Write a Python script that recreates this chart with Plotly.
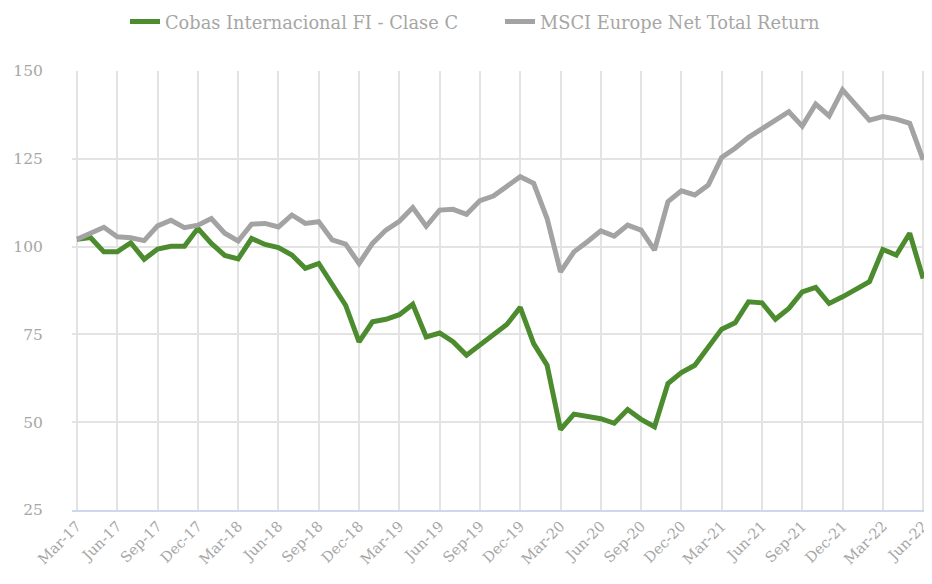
import plotly.graph_objects as go

months = ["Mar-17","Apr-17","May-17","Jun-17","Jul-17","Aug-17","Sep-17","Oct-17","Nov-17","Dec-17",
          "Jan-18","Feb-18","Mar-18","Apr-18","May-18","Jun-18","Jul-18","Aug-18","Sep-18","Oct-18","Nov-18","Dec-18",
          "Jan-19","Feb-19","Mar-19","Apr-19","May-19","Jun-19","Jul-19","Aug-19","Sep-19","Oct-19","Nov-19","Dec-19",
          "Jan-20","Feb-20","Mar-20","Apr-20","May-20","Jun-20","Jul-20","Aug-20","Sep-20","Oct-20","Nov-20","Dec-20",
          "Jan-21","Feb-21","Mar-21","Apr-21","May-21","Jun-21","Jul-21","Aug-21","Sep-21","Oct-21","Nov-21","Dec-21",
          "Jan-22","Feb-22","Mar-22","Apr-22","May-22","Jun-22"]

cobas = [102.1, 102.6, 98.5, 98.5, 101.1, 96.4, 99.3, 100.1, 100.1, 105.2,
         100.9, 97.5, 96.5, 102.3, 100.6, 99.7, 97.6, 93.8, 95.2, 89.0, 83.3, 72.9,
         78.6, 79.3, 80.6, 83.6, 74.3, 75.4, 72.9, 69.1, 71.9, 74.8, 77.8, 82.7,
         72.4, 66.2, 47.9, 52.3, 51.6, 51.0, 49.7, 53.6, 50.8, 48.7, 61.0, 64.1,
         66.2, 71.2, 76.5, 78.3, 84.3, 84.0, 79.3, 82.4, 87.1, 88.4, 83.8, 85.7,
         87.8, 90.0, 99.2, 97.6, 103.8, 90.9]

msci = [102.1, 103.8, 105.5, 102.8, 102.5, 101.7, 105.9, 107.5, 105.4, 106.1,
        108.0, 103.8, 101.6, 106.4, 106.6, 105.6, 109.0, 106.6, 107.1, 101.9, 100.7, 95.2,
        100.9, 104.7, 107.2, 111.1, 105.8, 110.4, 110.6, 109.2, 113.1, 114.4, 117.2, 119.9,
        118.0, 108.0, 92.8, 98.5, 101.4, 104.5, 103.0, 106.1, 104.7, 99.0, 112.8, 115.9,
        114.7, 117.5, 125.4, 128.0, 131.1, 133.4, 135.8, 138.4, 134.3, 140.6, 137.2, 144.6,
        140.3, 136.0, 137.0, 136.3, 135.1, 124.7]

series_names = ["Cobas Internacional FI - Clase C", "MSCI Europe Net Total Return"]
y_ticks = [25, 50, 75, 100, 125, 150]

idx = list(range(len(months)))
tick_idx = idx[::3]
tick_text = months[::3]

FONT = "DejaVu Serif"
TXT = "#a6a6a6"

# page body has an 8px default margin, so the figure is sized to fit the window
W, H = 924, 576

fig = go.Figure()
fig.add_trace(go.Scatter(x=idx, y=cobas, mode="lines", name=series_names[0],
                         line=dict(color="#4c8c2f", width=5)))
fig.add_trace(go.Scatter(x=idx, y=msci, mode="lines", name=series_names[1],
                         line=dict(color="#a3a3a3", width=5)))

fig.update_layout(
    width=W, height=H,
    margin=dict(l=64, r=2, t=63, b=74, autoexpand=False),
    paper_bgcolor="white", plot_bgcolor="white",
    font=dict(family=FONT, color=TXT, size=15),
    showlegend=True,
    legend=dict(orientation="h", xref="container", yref="container",
                x=492 / W, xanchor="center", y=1 - 14 / H, yanchor="middle",
                font=dict(family=FONT, size=17.8, color=TXT),
                itemwidth=30, entrywidth=330, traceorder="normal"),
    xaxis=dict(range=[-0.372, 63.51], tickmode="array", tickvals=tick_idx, ticktext=tick_text,
               tickangle=-45, showgrid=True, gridcolor="#e3e3e3", gridwidth=2,
               showline=True, linecolor="#cdd7ee", linewidth=2, zeroline=False,
               automargin=False, ticklabeloverflow="allow",
               ticks="", tickfont=dict(family=FONT, size=14.5, color=TXT)),
    yaxis=dict(range=[25, 150], tickmode="array", tickvals=y_ticks,
               showgrid=True, gridcolor="#e3e3e3", gridwidth=2, zeroline=False,
               automargin=False,
               ticks="outside", ticklen=25, tickcolor="rgba(0,0,0,0)",
               tickfont=dict(family=FONT, size=15.5, color=TXT)),
)

fig.write_html("out.html")
